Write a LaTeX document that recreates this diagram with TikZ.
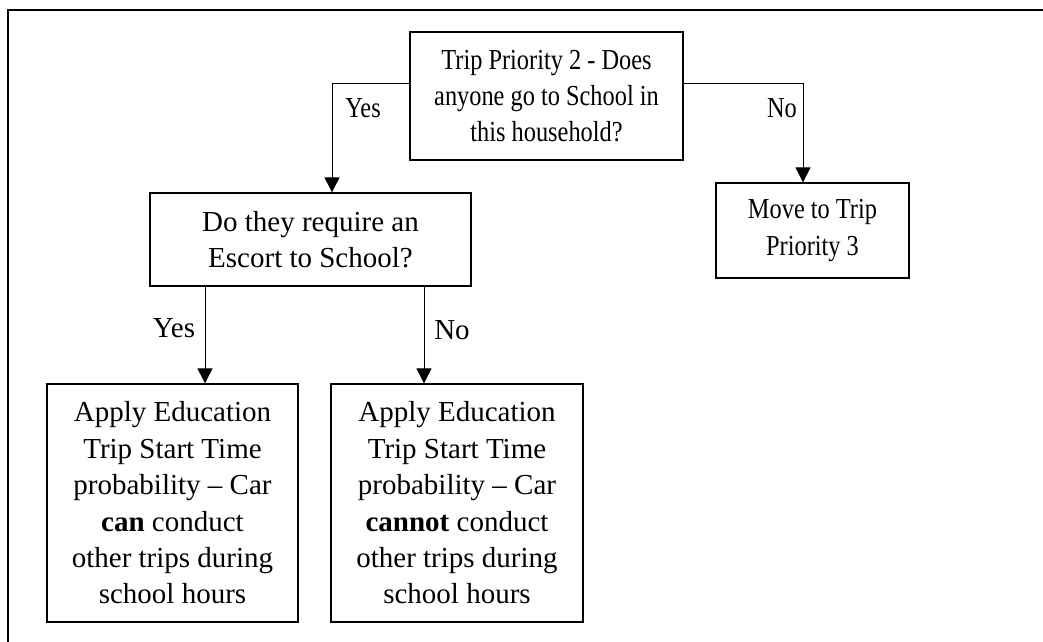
\documentclass[tikz,border=0pt]{standalone}
\usepackage{fontspec}
\setmainfont{Liberation Serif}
\newfontfamily\narrowserif[FakeStretch=0.84]{Liberation Serif}
\usetikzlibrary{arrows.meta}
\newcommand\flowsize{\fontsize{29}{36.4}\selectfont}
\tikzset{
  box/.style={draw, line width=1.3pt, inner sep=0pt, align=center, font=\flowsize},
  narrowbox/.style={box, font=\flowsize\narrowserif},
  lbl/.style={inner sep=0pt, font=\flowsize},
  narrowlbl/.style={lbl, font=\flowsize\narrowserif},
  arr/.style={-{Triangle[width=15pt,length=15pt]}, line width=0.9pt},
}
\begin{document}
\begin{tikzpicture}[x=1pt, y=-1pt]
  \useasboundingbox (0,0) rectangle (1043,641);
  % outer frame (top and left edges)
  \draw[line width=2.4pt] (8,660) -- (8,10) -- (1060,10);

  % decision and outcome boxes
  \node[narrowbox, minimum width=273pt, minimum height=128pt] (q1) at (546.5,96)
    {Trip Priority 2 - Does\\anyone go to School in\\this household?};
  \node[box, minimum width=321pt, minimum height=93pt] (q2) at (310.5,239.5)
    {Do they require an\\Escort to School?};
  \node[narrowbox, minimum width=193pt, minimum height=95pt] (next) at (812.5,230.5)
    {Move to Trip\\Priority 3};
  \node[box, minimum width=251pt, minimum height=238pt] (can) at (172.5,503)
    {Apply Education\\Trip Start Time\\probability -- Car\\\textbf{can} conduct\\other trips during\\school hours};
  \node[box, minimum width=252pt, minimum height=238pt] (cannot) at (457,503)
    {Apply Education\\Trip Start Time\\probability -- Car\\\textbf{cannot} conduct\\other trips during\\school hours};

  % connectors
  \draw[arr] ([yshift=13pt]q1.west) -| ([xshift=21.5pt]q2.north);
  \draw[arr] ([yshift=13pt]q1.east) -| ([xshift=-9.5pt]next.north);
  \draw[arr] ([xshift=-105.5pt]q2.south) -- ([xshift=-105.5pt]q2.south |- can.north);
  \draw[arr] ([xshift=113.5pt]q2.south) -- ([xshift=113.5pt]q2.south |- cannot.north);

  % branch labels
  \node[narrowlbl] (yes1) at (363,108) {Yes};
  \node[narrowlbl] (no1) at (782,108) {No};
  \node[lbl] (yes2) at (174,328) {Yes};
  \node[lbl] (no2) at (452,330) {No};
\end{tikzpicture}
\end{document}
